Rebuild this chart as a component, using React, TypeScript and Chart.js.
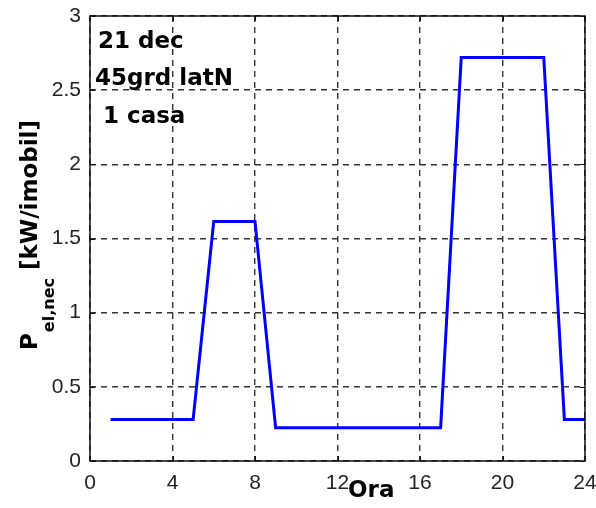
import React, { useEffect, useRef } from "react";
import { Chart, registerables } from "chart.js";

Chart.register(...registerables);

const hours = [1, 2, 3, 4, 5, 6, 7, 8, 9, 10, 11, 12, 13, 14, 15, 16, 17, 18, 19, 20, 21, 22, 23, 24];
const power = [
  0.28, 0.28, 0.28, 0.28, 0.28,
  1.615, 1.615, 1.615,
  0.225, 0.225, 0.225, 0.225, 0.225, 0.225, 0.225, 0.225, 0.225,
  2.72, 2.72, 2.72, 2.72, 2.72,
  0.28, 0.28,
];
const xTicks = [0, 4, 8, 12, 16, 20, 24];
const yTicks = [0, 0.5, 1, 1.5, 2, 2.5, 3];
const notes = ["21 dec", "45grd latN", " 1 casa"];
const xTitle = "Ora";
const yTitleMain = "P";
const yTitleSub = "el,nec";
const yTitleUnit = "[kW/imobil]";

const BOLD = "bold 23px 'DejaVu Sans', sans-serif";
const SUB = "bold 16px 'DejaVu Sans', sans-serif";

const overlay = {
  id: "overlay",
  afterDraw(chart: any) {
    const { ctx, chartArea: a, scales } = chart;
    const xs = scales.x;
    const ys = scales.y;
    ctx.save();
    ctx.strokeStyle = "#111";
    ctx.lineWidth = 1;
    ctx.setLineDash([]);
    const tl = 5;
    ctx.beginPath();
    xTicks.forEach((v) => {
      const px = Math.round(xs.getPixelForValue(v)) + 0.5;
      ctx.moveTo(px, a.bottom);
      ctx.lineTo(px, a.bottom - tl);
      ctx.moveTo(px, a.top);
      ctx.lineTo(px, a.top + tl);
    });
    yTicks.forEach((v) => {
      const py = Math.round(ys.getPixelForValue(v)) + 0.5;
      ctx.moveTo(a.left, py);
      ctx.lineTo(a.left + tl, py);
      ctx.moveTo(a.right, py);
      ctx.lineTo(a.right - tl, py);
    });
    ctx.stroke();
    ctx.lineWidth = 1.5;
    ctx.strokeStyle = "#111";
    ctx.strokeRect(a.left, a.top, a.right - a.left, a.bottom - a.top);

    ctx.fillStyle = "#000";
    ctx.font = BOLD;
    ctx.textAlign = "left";
    ctx.textBaseline = "alphabetic";
    const lines = [
      { t: notes[0], x: a.left + 8, y: a.top + 32 },
      { t: notes[1], x: a.left + 5, y: a.top + 69 },
      { t: notes[2], x: a.left + 5, y: a.top + 107 },
    ];
    lines.forEach((l) => ctx.fillText(l.t, l.x, l.y));

    ctx.fillText(xTitle, 348, a.bottom + 36);

    ctx.font = BOLD;
    const wP = ctx.measureText(yTitleMain).width;
    const wU = ctx.measureText(" " + yTitleUnit).width;
    ctx.font = SUB;
    const wS = ctx.measureText(yTitleSub).width;
    const total = wP + wS + wU;
    const cy = (a.top + a.bottom) / 2 - 3;
    ctx.translate(37, cy + total / 2);
    ctx.rotate(-Math.PI / 2);
    ctx.font = BOLD;
    ctx.fillText(yTitleMain, 0, 0);
    ctx.font = SUB;
    ctx.fillText(yTitleSub, wP + 1, 17);
    ctx.font = BOLD;
    ctx.fillText(" " + yTitleUnit, wP + wS + 1, 0);
    ctx.restore();
  },
};

export default function App() {
  const ref = useRef<HTMLCanvasElement>(null);
  useEffect(() => {
    if (!ref.current) return;
    const chart = new Chart(ref.current, {
      type: "line",
      data: {
        datasets: [
          {
            data: hours.map((h, i) => ({ x: h, y: power[i] })),
            borderColor: "#0000ff",
            borderWidth: 3,
            pointRadius: 0,
            tension: 0,
            fill: false,
          },
        ],
      },
      options: {
        animation: false,
        responsive: true,
        maintainAspectRatio: false,
        layout: { padding: { left: 0, right: 11, top: 16, bottom: 0 } },
        plugins: { legend: { display: false }, tooltip: { enabled: false } },
        scales: {
          x: {
            type: "linear",
            min: 0,
            max: 24,
            afterBuildTicks: (s: any) => {
              s.ticks = xTicks.map((v) => ({ value: v }));
            },
            afterFit: (s: any) => {
              s.height = 47;
              s.paddingLeft = 0;
              s.paddingRight = 0;
            },
            grid: { color: "#333", lineWidth: 1.4, drawTicks: false },
            border: { display: false, dash: [6, 5] },
            ticks: {
              color: "#222",
              padding: 10,
              maxRotation: 0,
              font: { family: "'Liberation Sans', Arial, sans-serif", size: 21 },
              callback: (v: any) => String(v),
            },
          },
          y: {
            type: "linear",
            min: 0,
            max: 3,
            afterBuildTicks: (s: any) => {
              s.ticks = yTicks.map((v) => ({ value: v }));
            },
            afterFit: (s: any) => {
              s.width = 90;
              s.paddingTop = 0;
              s.paddingBottom = 0;
            },
            grid: { color: "#333", lineWidth: 1.4, drawTicks: false },
            border: { display: false, dash: [6, 5] },
            ticks: {
              color: "#222",
              padding: 9,
              font: { family: "'Liberation Sans', Arial, sans-serif", size: 21 },
              callback: (v: any) => String(v),
            },
          },
        },
      },
      plugins: [overlay],
    });
    return () => chart.destroy();
  }, []);
  return (
    <div style={{ position: "fixed", left: 0, top: 0, width: 596, height: 508, background: "#fff" }}>
      <canvas ref={ref} />
    </div>
  );
}
